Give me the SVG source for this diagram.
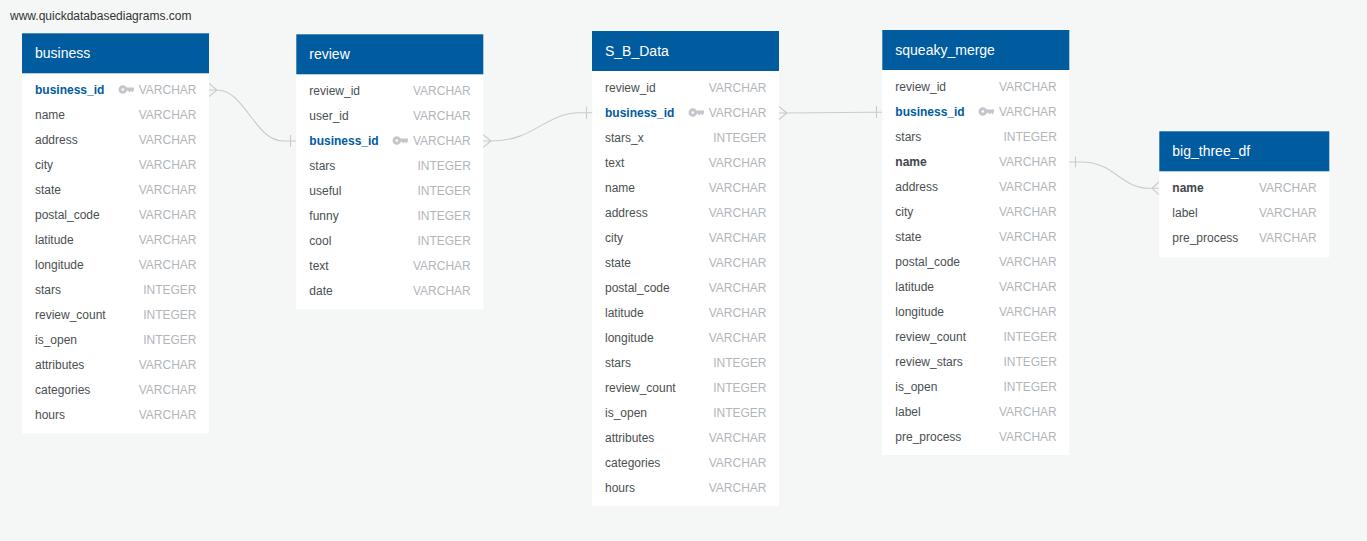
<svg xmlns="http://www.w3.org/2000/svg" width="1367" height="541" viewBox="0 0 1367 541">
<style>
text{font-family:"Liberation Sans",Arial,sans-serif;font-size:12px;fill:#4a4f52}
.h{fill:#005b9f}.b{fill:#fff}
.t{font-size:14px;fill:#fff}
.ty{fill:#b2b6ba;text-anchor:end}
.pk{fill:#005b9f;font-weight:700}
.nb{font-weight:700;fill:#3f4548}
.c{fill:none;stroke:#c9cccc;stroke-width:1.100}
.k{fill:#c3c6ca}
.u{fill:#333}
</style>
<defs>
<g id="key"><circle cx="3.800" cy="0" r="2.800" fill="none" stroke="#c3c6ca" stroke-width="3"/><path d="M7 -2H15V0.500L13.500 3L12 1.200L10.500 3L9 1.200H7Z" class="k"/></g>
</defs>
<rect width="1367" height="541" fill="#f5f7f6"/>
<text class="u" x="10" y="20">www.quickdatabasediagrams.com</text>
<g id="connectors">
<path class="c" d="M209 90H217C245 90 255 141 283 141H296M209 83.500L217 90L209 96.500M290.500 135V147"/>
<path class="c" d="M483 141H491C535 141 545 112.700 580 112.700H592M483 134.500L491 141L483 147.500M586.500 106.500V118.700"/>
<path class="c" d="M779 113H787L870 112.300H882M779 106.500L787 113L779 119.500M876.500 106V118"/>
<path class="c" d="M1069 162H1081C1115 162 1120 188.300 1150 188.300H1159M1159 182L1152 188.300L1159 194.600M1075.500 156.500V167.500"/>
</g>
<g id="business">
<rect class="b" x="22" y="33.300" width="187" height="400"/><rect class="h" x="22" y="33.300" width="187" height="40"/>
<text class="t" x="35" y="58">business</text>
<text class="pk" x="35" y="94">business_id</text><use href="#key" x="119" y="89.500"/><text class="ty" x="196.500" y="94">VARCHAR</text>
<text x="35" y="119">name</text><text class="ty" x="196.500" y="119">VARCHAR</text>
<text x="35" y="144">address</text><text class="ty" x="196.500" y="144">VARCHAR</text>
<text x="35" y="169">city</text><text class="ty" x="196.500" y="169">VARCHAR</text>
<text x="35" y="194">state</text><text class="ty" x="196.500" y="194">VARCHAR</text>
<text x="35" y="219">postal_code</text><text class="ty" x="196.500" y="219">VARCHAR</text>
<text x="35" y="244">latitude</text><text class="ty" x="196.500" y="244">VARCHAR</text>
<text x="35" y="269">longitude</text><text class="ty" x="196.500" y="269">VARCHAR</text>
<text x="35" y="294">stars</text><text class="ty" x="196.500" y="294">INTEGER</text>
<text x="35" y="319">review_count</text><text class="ty" x="196.500" y="319">INTEGER</text>
<text x="35" y="344">is_open</text><text class="ty" x="196.500" y="344">INTEGER</text>
<text x="35" y="369">attributes</text><text class="ty" x="196.500" y="369">VARCHAR</text>
<text x="35" y="394">categories</text><text class="ty" x="196.500" y="394">VARCHAR</text>
<text x="35" y="419">hours</text><text class="ty" x="196.500" y="419">VARCHAR</text>
</g>
<g id="review">
<rect class="b" x="296.300" y="34.300" width="187" height="275"/><rect class="h" x="296.300" y="34.300" width="187" height="40"/>
<text class="t" x="309.300" y="59">review</text>
<text x="309.300" y="95">review_id</text><text class="ty" x="470.800" y="95">VARCHAR</text>
<text x="309.300" y="120">user_id</text><text class="ty" x="470.800" y="120">VARCHAR</text>
<text class="pk" x="309.300" y="145">business_id</text><use href="#key" x="393" y="140.500"/><text class="ty" x="470.800" y="145">VARCHAR</text>
<text x="309.300" y="170">stars</text><text class="ty" x="470.800" y="170">INTEGER</text>
<text x="309.300" y="195">useful</text><text class="ty" x="470.800" y="195">INTEGER</text>
<text x="309.300" y="220">funny</text><text class="ty" x="470.800" y="220">INTEGER</text>
<text x="309.300" y="245">cool</text><text class="ty" x="470.800" y="245">INTEGER</text>
<text x="309.300" y="270">text</text><text class="ty" x="470.800" y="270">VARCHAR</text>
<text x="309.300" y="295">date</text><text class="ty" x="470.800" y="295">VARCHAR</text>
</g>
<g id="S_B_Data">
<rect class="b" x="592" y="31" width="187" height="475"/><rect class="h" x="592" y="31" width="187" height="40"/>
<text class="t" x="605" y="56">S_B_Data</text>
<text x="605" y="92">review_id</text><text class="ty" x="766.500" y="92">VARCHAR</text>
<text class="pk" x="605" y="117">business_id</text><use href="#key" x="689" y="112.500"/><text class="ty" x="766.500" y="117">VARCHAR</text>
<text x="605" y="142">stars_x</text><text class="ty" x="766.500" y="142">INTEGER</text>
<text x="605" y="167">text</text><text class="ty" x="766.500" y="167">VARCHAR</text>
<text x="605" y="192">name</text><text class="ty" x="766.500" y="192">VARCHAR</text>
<text x="605" y="217">address</text><text class="ty" x="766.500" y="217">VARCHAR</text>
<text x="605" y="242">city</text><text class="ty" x="766.500" y="242">VARCHAR</text>
<text x="605" y="267">state</text><text class="ty" x="766.500" y="267">VARCHAR</text>
<text x="605" y="292">postal_code</text><text class="ty" x="766.500" y="292">VARCHAR</text>
<text x="605" y="317">latitude</text><text class="ty" x="766.500" y="317">VARCHAR</text>
<text x="605" y="342">longitude</text><text class="ty" x="766.500" y="342">VARCHAR</text>
<text x="605" y="367">stars</text><text class="ty" x="766.500" y="367">INTEGER</text>
<text x="605" y="392">review_count</text><text class="ty" x="766.500" y="392">INTEGER</text>
<text x="605" y="417">is_open</text><text class="ty" x="766.500" y="417">INTEGER</text>
<text x="605" y="442">attributes</text><text class="ty" x="766.500" y="442">VARCHAR</text>
<text x="605" y="467">categories</text><text class="ty" x="766.500" y="467">VARCHAR</text>
<text x="605" y="492">hours</text><text class="ty" x="766.500" y="492">VARCHAR</text>
</g>
<g id="squeaky_merge">
<rect class="b" x="882.300" y="30" width="187" height="425"/><rect class="h" x="882.300" y="30" width="187" height="40"/>
<text class="t" x="895.300" y="55">squeaky_merge</text>
<text x="895.300" y="91">review_id</text><text class="ty" x="1056.800" y="91">VARCHAR</text>
<text class="pk" x="895.300" y="116">business_id</text><use href="#key" x="979" y="111.500"/><text class="ty" x="1056.800" y="116">VARCHAR</text>
<text x="895.300" y="141">stars</text><text class="ty" x="1056.800" y="141">INTEGER</text>
<text class="nb" x="895.300" y="166">name</text><text class="ty" x="1056.800" y="166">VARCHAR</text>
<text x="895.300" y="191">address</text><text class="ty" x="1056.800" y="191">VARCHAR</text>
<text x="895.300" y="216">city</text><text class="ty" x="1056.800" y="216">VARCHAR</text>
<text x="895.300" y="241">state</text><text class="ty" x="1056.800" y="241">VARCHAR</text>
<text x="895.300" y="266">postal_code</text><text class="ty" x="1056.800" y="266">VARCHAR</text>
<text x="895.300" y="291">latitude</text><text class="ty" x="1056.800" y="291">VARCHAR</text>
<text x="895.300" y="316">longitude</text><text class="ty" x="1056.800" y="316">VARCHAR</text>
<text x="895.300" y="341">review_count</text><text class="ty" x="1056.800" y="341">INTEGER</text>
<text x="895.300" y="366">review_stars</text><text class="ty" x="1056.800" y="366">INTEGER</text>
<text x="895.300" y="391">is_open</text><text class="ty" x="1056.800" y="391">INTEGER</text>
<text x="895.300" y="416">label</text><text class="ty" x="1056.800" y="416">VARCHAR</text>
<text x="895.300" y="441">pre_process</text><text class="ty" x="1056.800" y="441">VARCHAR</text>
</g>
<g id="big_three_df">
<rect class="b" x="1159.300" y="131.300" width="170" height="126"/><rect class="h" x="1159.300" y="131.300" width="170" height="40"/>
<text class="t" x="1172.300" y="156">big_three_df</text>
<text class="nb" x="1172.300" y="192">name</text><text class="ty" x="1316.800" y="192">VARCHAR</text>
<text x="1172.300" y="217">label</text><text class="ty" x="1316.800" y="217">VARCHAR</text>
<text x="1172.300" y="242">pre_process</text><text class="ty" x="1316.800" y="242">VARCHAR</text>
</g>
</svg>
